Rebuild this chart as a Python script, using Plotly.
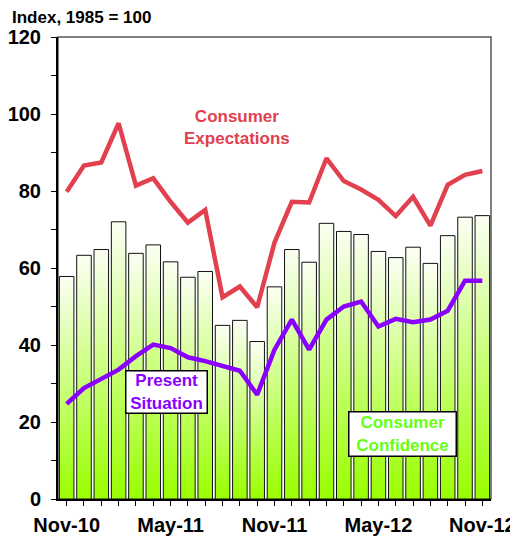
import plotly.graph_objects as go

# Conference Board - Consumer Confidence, Nov-10 .. Nov-12
months = ['Nov-10', 'Dec-10', 'Jan-11', 'Feb-11', 'Mar-11', 'Apr-11', 'May-11',
          'Jun-11', 'Jul-11', 'Aug-11', 'Sep-11', 'Oct-11', 'Nov-11', 'Dec-11',
          'Jan-12', 'Feb-12', 'Mar-12', 'Apr-12', 'May-12', 'Jun-12', 'Jul-12',
          'Aug-12', 'Sep-12', 'Oct-12', 'Nov-12']
tick_labels = ['Nov-10', 'May-11', 'Nov-11', 'May-12', 'Nov-12']

confidence = [57.8, 63.3, 64.8, 72.0, 63.8, 66.0, 61.6, 57.6, 59.1, 45.1, 46.4, 40.9,
              55.1, 64.8, 61.5, 71.6, 69.5, 68.7, 64.3, 62.7, 65.4, 61.2, 68.4, 73.2, 73.6]
expectations = [79.8, 86.6, 87.4, 97.6, 81.4, 83.3, 77.2, 71.8, 75.1, 52.4, 55.2, 49.8,
                66.6, 77.2, 77.0, 88.5, 82.6, 80.4, 77.7, 73.5, 78.5, 71.0, 81.6, 84.2, 85.2]
present = [24.7, 28.8, 31.2, 33.6, 37.1, 40.1, 39.2, 36.8, 35.8, 34.5, 33.3, 27.1,
           38.8, 46.6, 38.8, 46.6, 50.0, 51.3, 44.8, 46.8, 45.9, 46.6, 48.9, 56.7, 56.7]

RED = '#E2404E'
PURPLE = '#8A00FF'
GREEN_TXT = '#66FF11'

x = list(range(len(months)))
w = 0.84

fig = go.Figure()

# barras com degradê (branco em cima, verde embaixo)
for i, v in enumerate(confidence):
    fig.add_trace(go.Scatter(
        x=[i - w / 2, i - w / 2, i + w / 2, i + w / 2, i - w / 2],
        y=[0, v, v, 0, 0],
        mode='lines',
        fill='toself',
        fillgradient=dict(type='vertical',
                          colorscale=[[0, '#99FF00'], [1, '#FBFFF4']]),
        line=dict(color='#111111', width=1),
        hoverinfo='skip',
        showlegend=False,
    ))

fig.add_trace(go.Scatter(x=x, y=expectations, mode='lines',
                         line=dict(color=RED, width=4.5), showlegend=False))
fig.add_trace(go.Scatter(x=x, y=present, mode='lines',
                         line=dict(color=PURPLE, width=4.5), showlegend=False))

bold = 'Liberation Sans, Arial, sans-serif'

fig.add_annotation(x=9.83, y=96.4, text='<b>Consumer<br>Expectations</b>',
                   showarrow=False, font=dict(family=bold, size=17, color=RED))
fig.add_annotation(x=5.76, y=27.9, text='<b>Present<br>Situation</b>',
                   showarrow=False, font=dict(family=bold, size=17, color=PURPLE),
                   bgcolor='white', bordercolor='black', borderwidth=1.5,
                   borderpad=0, width=80, height=41)
fig.add_annotation(x=19.39, y=16.9, text='<b>Consumer<br>Confidence</b>',
                   showarrow=False, font=dict(family=bold, size=17, color=GREEN_TXT),
                   bgcolor='white', bordercolor='black', borderwidth=1.5,
                   borderpad=0, width=106, height=43)
fig.add_annotation(xref='paper', yref='paper', x=-0.111, y=1.043,
                   xanchor='left', yanchor='middle', showarrow=False,
                   text='<b>Index, 1985 = 100</b>',
                   font=dict(family=bold, size=17, color='black'))

# moldura cinza (topo e direita)
fig.add_shape(type='rect', xref='paper', yref='paper', x0=0, x1=1, y0=0, y1=1,
              line=dict(color='#555555', width=1.5), layer='below')

# a página tem 8px de margem no body, então o tamanho desconta isso
fig.update_layout(
    width=510, height=530,
    margin=dict(l=50, r=27, t=29, b=39),
    plot_bgcolor='white', paper_bgcolor='white',
    font=dict(family=bold, color='black'),
    xaxis=dict(
        range=[-0.5, 24.5],
        tickvals=x,
        ticktext=[m if m in tick_labels else '' for m in months],
        ticks='outside', ticklen=5, tickcolor='black', tickwidth=1,
        ticklabelstandoff=2,
        tickfont=dict(family=bold, size=20, color='black', weight='bold'),
        showline=True, linecolor='black', linewidth=2,
        showgrid=False, zeroline=False, automargin=False,
    ),
    yaxis=dict(
        range=[0, 120],
        tickvals=list(range(0, 121, 10)),
        ticktext=[str(v) if v % 20 == 0 else '' for v in range(0, 121, 10)],
        ticks='outside', ticklen=5, tickcolor='black', tickwidth=1,
        ticklabelstandoff=6,
        tickfont=dict(family=bold, size=20, color='black', weight='bold'),
        showline=True, linecolor='black', linewidth=2,
        showgrid=False, zeroline=False, automargin=False,
    ),
)

fig.write_html('out.html')
